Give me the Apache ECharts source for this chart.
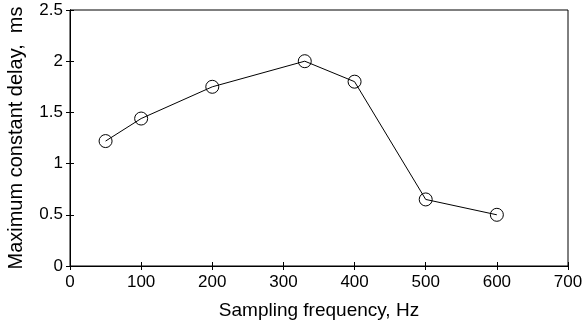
<!DOCTYPE html>
<html>
<head>
<meta charset="utf-8">
<script src="https://cdn.jsdelivr.net/npm/echarts@6/dist/echarts.min.js"></script>
<style>html,body{margin:0;padding:0;background:#fff}#c{width:587px;height:329px}</style>
</head>
<body>
<div id="c"></div>
<script>
const frequencies = [50, 100, 200, 330, 400, 500, 600];
const delays = [1.22, 1.44, 1.75, 2.0, 1.8, 0.65, 0.5];
const xTitle = 'Sampling frequency, Hz';
const yTitle = 'Maximum constant delay,  ms';

const font = 'Liberation Sans, Arial, sans-serif';
const chart = echarts.init(document.getElementById('c'), null, {renderer: 'canvas'});
const axisLineStyle = {color: '#000', width: 1};
const tickStyle = {show: true, inside: true, length: 4, lineStyle: {color: '#000', width: 1}};
chart.setOption({
  animation: false,
  backgroundColor: '#fff',
  grid: {left: 70, right: 19, top: 10, bottom: 63, containLabel: false, outerBoundsMode: 'none',
         show: true, borderColor: '#000', borderWidth: 1, backgroundColor: 'transparent'},
  xAxis: [
    {type: 'value', position: 'bottom', min: 0, max: 700, interval: 100,
     axisLine: {show: true, lineStyle: axisLineStyle}, axisTick: tickStyle,
     splitLine: {show: false},
     axisLabel: {color: '#000', fontSize: 17, fontFamily: font, margin: 8},
     name: xTitle, nameLocation: 'middle', nameGap: 35,
     nameTextStyle: {color: '#000', fontSize: 19, fontFamily: font}},
    {type: 'value', position: 'top', min: 0, max: 700, interval: 100,
     axisLine: {show: true, lineStyle: axisLineStyle}, axisTick: tickStyle,
     splitLine: {show: false}, axisLabel: {show: false}}
  ],
  yAxis: [
    {type: 'value', position: 'left', min: 0, max: 2.5, interval: 0.5,
     axisLine: {show: true, lineStyle: axisLineStyle}, axisTick: tickStyle,
     splitLine: {show: false},
     axisLabel: {color: '#000', fontSize: 17, fontFamily: font, margin: 7},
     name: yTitle, nameLocation: 'middle', nameGap: 44, nameRotate: 90,
     nameTextStyle: {color: '#000', fontSize: 20, fontFamily: font}},
    {type: 'value', position: 'right', min: 0, max: 2.5, interval: 0.5,
     axisLine: {show: true, lineStyle: axisLineStyle}, axisTick: tickStyle,
     splitLine: {show: false}, axisLabel: {show: false}}
  ],
  series: [{
    type: 'line',
    xAxisIndex: 0, yAxisIndex: 0,
    data: frequencies.map((f, i) => [f, delays[i]]),
    lineStyle: {color: '#000', width: 1},
    symbol: 'circle', symbolSize: 13, showAllSymbol: true,
    itemStyle: {color: 'rgba(0,0,0,0)', borderColor: '#000', borderWidth: 1},
    emphasis: {disabled: true}
  }]
});
</script>
</body>
</html>
